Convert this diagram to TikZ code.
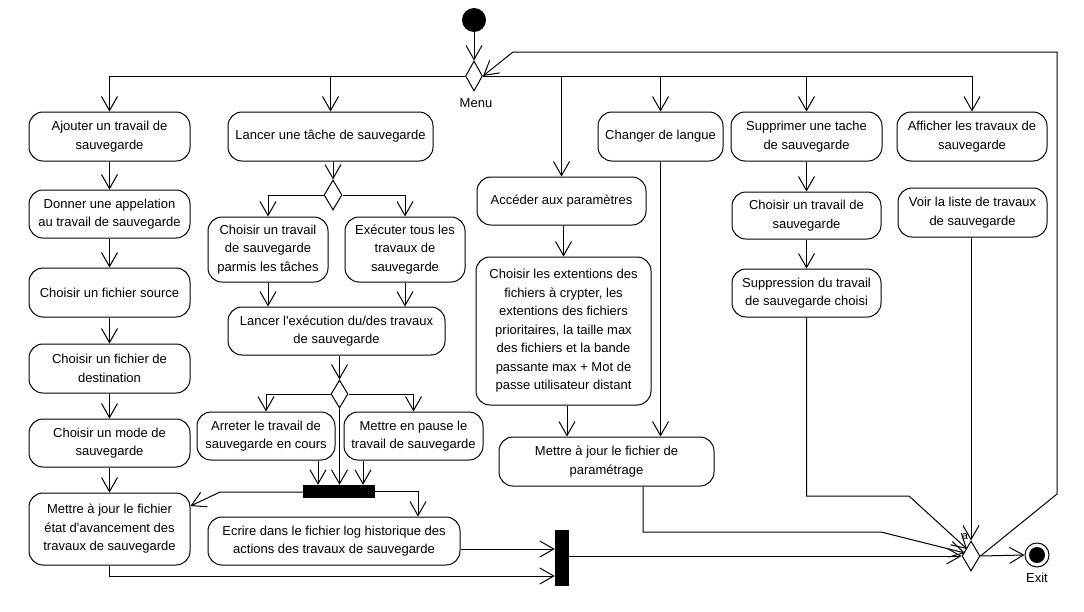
\documentclass[tikz,border=0pt]{standalone}
\usepackage{fontspec}
\setmainfont{Liberation Sans}
\usetikzlibrary{arrows.meta,shapes.geometric,calc}
\begin{document}
\begin{tikzpicture}[x=1pt,y=-1pt,
  font=\fontsize{13}{18.5}\selectfont,
  act/.style={draw, rounded corners=14pt, align=center, inner sep=0pt, line width=1pt},
  sz/.style 2 args={minimum width=#1pt, minimum height=#2pt},
  choice/.style={draw, diamond, inner sep=0pt, line width=1pt},
  syncbar/.style={fill=black, draw=none, inner sep=0pt},
  flow/.style={line width=1pt, -{Straight Barb[length=14pt,width=16pt]}},
  plain/.style={line width=1pt},
]
\fill[white] (0,0) rectangle (1084,611);
\useasboundingbox (0,0) rectangle (1084,611);

% initial node and menu choice
\node[circle, fill=black, minimum size=24pt, inner sep=0pt] (start) at (474,20) {};
\node[choice, sz={17}{30}] (menu) at (474,76) {};
\node (menulbl) at (476,103) {Menu};

% first row of activities
\node[act, sz={161}{49}] (ajouter)   at (109.5,136.5) {Ajouter un travail de\\sauvegarde};
\node[act, sz={205}{49}] (lancer)    at (330.5,136.5) {Lancer une tâche de sauvegarde};
\node[act, sz={125}{49}] (changer)   at (660.5,136.5) {Changer de langue};
\node[act, sz={151}{49}] (supprimer) at (806.5,136.5) {Supprimer une tache\\de sauvegarde};
\node[act, sz={150}{49}] (afficher)  at (972,136.5)   {Afficher les travaux de\\sauvegarde};

% adding a backup job
\node[act, sz={161}{48}] (donner) at (109.5,214)   {Donner une appelation\\au travail de sauvegarde};
\node[act, sz={161}{49}] (source) at (109.5,292.5) {Choisir un fichier source};
\node[act, sz={161}{49}] (dest)   at (109.5,368.5) {Choisir un fichier de\\destination};
\node[act, sz={161}{48}] (mode)   at (109.5,443)   {Choisir un mode de\\sauvegarde};
\node[act, sz={161}{72}] (etat)   at (109.5,529)   {Mettre à jour le fichier\\état d\textquotesingle avancement des\\travaux de sauvegarde};

% running backup tasks
\node[choice, sz={18}{30}] (d1) at (333,195) {};
\node[act, sz={120}{65}] (choisirT) at (268,249.5) {Choisir un travail\\de sauvegarde\\parmis les tâches};
\node[act, sz={120}{65}] (executer) at (405,249.5) {Exécuter tous les\\travaux de\\sauvegarde};
\node[act, sz={217}{48}] (lexec) at (336.5,331) {Lancer l\textquotesingle exécution du/des travaux\\de sauvegarde};
\node[choice, sz={17}{28}] (d2) at (339.5,394) {};
\node[act, sz={138}{48}] (arreter) at (266,436)   {Arreter le travail de\\sauvegarde en cours};
\node[act, sz={139}{48}] (pause)   at (413.5,436) {Mettre en pause le\\travail de sauvegarde};
\node[syncbar, sz={72}{13}] (bar1) at (339,491.5) {};
\node[act, sz={252}{48}] (ecrire) at (334,541) {Ecrire dans le fichier log historique des\\actions des travaux de sauvegarde};
\node[syncbar, sz={14}{56}] (bar2) at (562,558) {};

% settings
\node[act, sz={169}{48}]  (acceder) at (561.5,201) {Accéder aux paramètres};
\node[act, sz={175}{148}] (ext) at (563.5,331) {Choisir les extentions des\\fichiers à crypter, les\\extentions des fichiers\\prioritaires, la taille max\\des fichiers et la bande\\passante max + Mot de\\passe utilisateur distant};
\node[act, sz={215}{49}]  (param) at (606.5,461.5) {Mettre à jour le fichier de\\paramétrage};

% deleting and listing jobs
\node[act, sz={149}{47}] (choisirS) at (806.5,215.5) {Choisir un travail de\\sauvegarde};
\node[act, sz={149}{48}] (suppr)    at (806.5,293)   {Suppression du travail\\de sauvegarde choisi};
\node[act, sz={149}{49}] (voir)     at (972.5,212.5) {Voir la liste de travaux\\de sauvegarde};

% merge and final node
\node[choice, sz={18}{30}] (exitD) at (971,556) {};
\node[font=\fontsize{11}{13}\selectfont, inner sep=0pt] (albl) at (965,537) {a};
\node[circle, draw, line width=1pt, minimum size=24pt, inner sep=0pt] (final) at (1037,555) {};
\node[circle, fill=black, minimum size=16pt, inner sep=0pt] (finaldot) at (final.center) {};
\node (exitlbl) at (1037,578) {Exit};

% bend points
\coordinate (retA) at (1057,494);
\coordinate (retB) at (1057,52);
\coordinate (retC) at (513,52);
\coordinate (barL) at (220,492);
\coordinate (prmA) at (643,532);
\coordinate (prmB) at (881,532);
\coordinate (supA) at (806.5,496);
\coordinate (supB) at (909,496);

% flows from the start and the menu
\draw[flow] (start) -- (menu.north);
\draw[flow] (menu.west) -| (ajouter.north);
\draw[flow] (menu.west) -| (lancer.north);
\draw[flow] (menu.east) -| (acceder.north);
\draw[flow] (menu.east) -| (changer.north);
\draw[flow] (menu.east) -| (supprimer.north);
\draw[flow] (menu.east) -| (afficher.north);
\draw[flow] (exitD.east) -- (retA) -- (retB) -- (retC) -- (menu.east);

% add job chain
\draw[flow] (ajouter) -- (donner);
\draw[flow] (donner) -- (source);
\draw[flow] (source) -- (dest);
\draw[flow] (dest) -- (mode);
\draw[flow] (mode) -- (etat);

% run tasks
\draw[flow] (d1.north |- lancer.south) -- (d1.north);
\draw[flow] (d1.west) -| (choisirT.north);
\draw[flow] (d1.east) -| (executer.north);
\draw[flow] (choisirT.south) -- (choisirT.south |- lexec.north);
\draw[flow] (executer.south) -- (executer.south |- lexec.north);
\draw[flow] (d2.north |- lexec.south) -- (d2.north);
\draw[flow] (d2.west) -| (arreter.north);
\draw[flow] (d2.east) -| (pause.north);
\draw[flow] (d2.south) -- (d2.south |- bar1.north);
\draw[flow] ([xshift=52pt]arreter.south) -- ([xshift=52pt]arreter.south |- bar1.north);
\draw[flow] ([xshift=-50.5pt]pause.south) -- ([xshift=-50.5pt]pause.south |- bar1.north);
\draw[flow] (bar1.west |- barL) -- (barL) -- ([yshift=23pt]etat.east);
\draw[flow] (bar1.east) -| ([xshift=84pt]ecrire.north);
\draw[flow] ([yshift=-8pt]ecrire.east) -- ([yshift=-8pt]ecrire.east -| bar2.west);
\draw[flow] (etat.south) |- ([yshift=-18pt]bar2.west);
\draw[flow] (bar2.east |- exitD.west) -- (exitD.west);

% settings
\draw[flow] (ext.north |- acceder.south) -- (ext.north);
\draw[flow] ([xshift=3.5pt]ext.south) -- ([xshift=3.5pt]ext.south |- param.north);
\draw[flow] (changer.south) -- (changer.south |- param.north);
\draw[flow] (prmA |- param.south) -- (prmA) -- (prmB) -- ([shift={(-6pt,3pt)}]exitD.center);

% delete and list
\draw[flow] (supprimer) -- (choisirS);
\draw[flow] (choisirS) -- (suppr);
\draw[flow] (suppr.south) -- (supA) -- (supB) -- ([shift={(-4pt,7pt)}]exitD.center);
\draw[flow] (exitD.north |- voir.south) -- (exitD.north);

% to the final node
\draw[flow] (exitD.east) -- (final.west);
\end{tikzpicture}
\end{document}
